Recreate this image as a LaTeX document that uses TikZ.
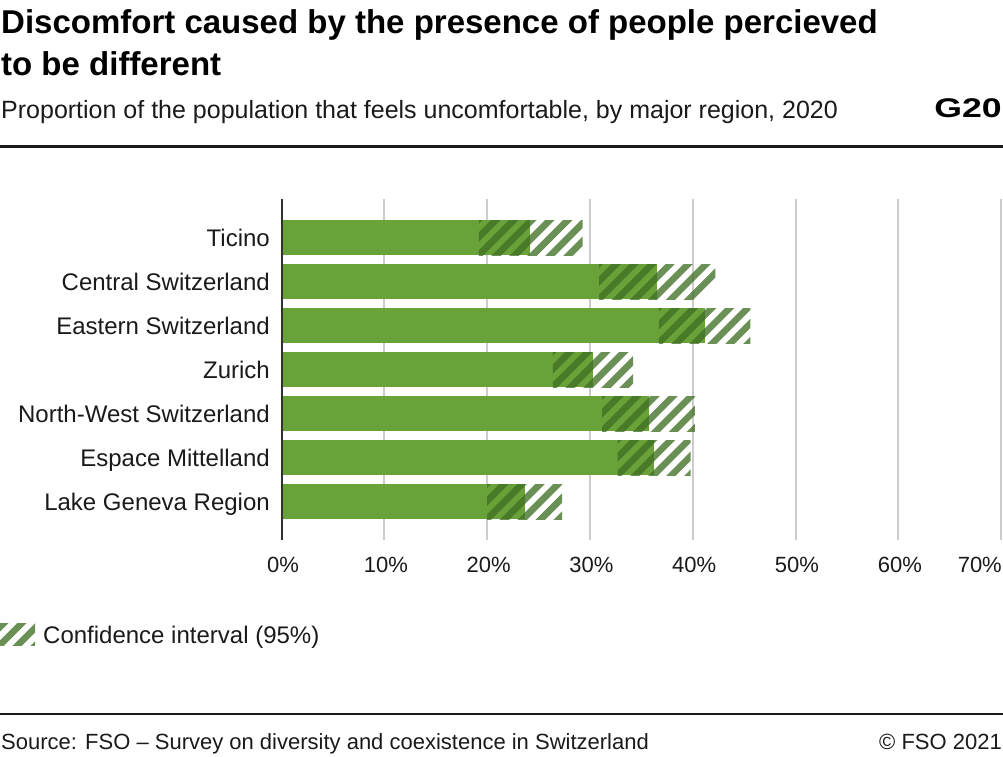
\documentclass[tikz,border=0pt]{standalone}
\usepackage{fontspec}
\setmainfont{Liberation Sans}
\usetikzlibrary{positioning}

\definecolor{bargreen}{HTML}{6AA23A}
\definecolor{cigreen}{HTML}{3F6E22}
\definecolor{gridgray}{HTML}{CCCCCC}
\definecolor{inkgray}{HTML}{1A1A1A}

\tikzset{
  bar/.style={fill=bargreen, draw=none},
  cistripe/.style={draw=cigreen, draw opacity=0.77, line width=6.6pt},
  gridline/.style={gridgray, line width=2pt},
  axisline/.style={inkgray!90, line width=2pt},
  rule/.style={inkgray, line width=2.2pt},
  catlabel/.style={anchor=base east, inner sep=0pt, text=inkgray, font=\fontsize{24}{28}\selectfont},
  ticklabel/.style={anchor=base, inner sep=0pt, text=inkgray, font=\fontsize{22}{26}\selectfont},
  smalltext/.style={inner sep=0pt, text=inkgray, font=\fontsize{22}{26}\selectfont}
}

\begin{document}
\begin{tikzpicture}[x=1pt, y=-1pt]
  \useasboundingbox (0,0) rectangle (1003,756);

  % Heading
  \node[anchor=base west, inner sep=0pt, font=\fontsize{33}{40}\selectfont\bfseries] (title1) at (1,33)
    {Discomfort caused by the presence of people percieved};
  \node[anchor=base west, inner sep=0pt, font=\fontsize{33}{40}\selectfont\bfseries] (title2) at (1,75)
    {to be different};
  \node[anchor=base west, inner sep=0pt, text=inkgray, font=\fontsize{25}{30}\selectfont] (subtitle) at (1,118)
    {Proportion of the population that feels uncomfortable, by major region, 2020};
  \node[anchor=base east, inner sep=0pt, font=\fontsize{27}{30}\selectfont\bfseries] (gnum) at (1002,117)
    {\scalebox{1.32}[1]{G20}};

  \coordinate (toprulel) at (0,146.5);
  \coordinate (topruler) at (1003,146.5);
  \draw[rule] (toprulel) -- (topruler);

  % Grid
  \foreach \v in {1,...,7} {
    \coordinate (gtop\v) at (281.5+102.8*\v,199);
    \coordinate (gbot\v) at (281.5+102.8*\v,540);
    \draw[gridline] (gtop\v) -- (gbot\v);
  }
  \foreach \v/\txt in {0/0\%,1/10\%,2/20\%,3/30\%,4/40\%,5/50\%,6/60\%}
    \node[ticklabel] (tick\v) at (283+102.8*\v,572) {\txt};
  \node[ticklabel, anchor=base east] (tick7) at (1002,572) {70\%};

  % Bars with confidence intervals
  \foreach \reg/\val/\lo/\hi [count=\i] in {
      Ticino/24.2/19.2/29.3,
      Central Switzerland/36.5/30.9/42.2,
      Eastern Switzerland/41.2/36.7/45.6,
      Zurich/30.3/26.4/34.2,
      North-West Switzerland/35.7/31.2/40.2,
      Espace Mittelland/36.2/32.7/39.8,
      Lake Geneva Region/23.7/20.0/27.3} {
    \pgfmathsetmacro{\yt}{220+44*(\i-1)}
    \pgfmathsetmacro{\xv}{281.5+10.28*\val}
    \pgfmathsetmacro{\xl}{281.5+10.28*\lo}
    \pgfmathsetmacro{\xh}{281.5+10.28*\hi}
    \node[catlabel] (reg\i) at (270,\yt+26.5) {\reg};
    \fill[bar] (283,\yt) rectangle (\xv,\yt+35);
    \begin{scope}
      \clip (\xl,\yt) rectangle (\xh,\yt+35);
      \foreach \k in {-2,...,5}
        \draw[cistripe] (\xl+18*\k-5,\yt+40) -- ++(45,-45);
    \end{scope}
  }

  \coordinate (axtop) at (282,199);
  \coordinate (axbot) at (282,540);
  \draw[axisline] (axtop) -- (axbot);

  % Legend
  \begin{scope}
    \clip (0,623) rectangle (35,645);
    \foreach \k in {-1,...,2}
      \draw[cistripe] (18*\k-5,650) -- ++(32,-32);
  \end{scope}
  \node[anchor=base west, inner sep=0pt, text=inkgray, font=\fontsize{24}{28}\selectfont] (legtext) at (43,643.5)
    {Confidence interval (95\%)};

  % Footer
  \coordinate (botrulel) at (0,714);
  \coordinate (botruler) at (1003,714);
  \draw[rule] (botrulel) -- (botruler);
  \node[smalltext, anchor=base west] (source) at (1,749)
    {Source: FSO – Survey on diversity and coexistence in Switzerland};
  \node[smalltext, anchor=base east] (copyright) at (1002,749) {© FSO 2021};
\end{tikzpicture}
\end{document}
